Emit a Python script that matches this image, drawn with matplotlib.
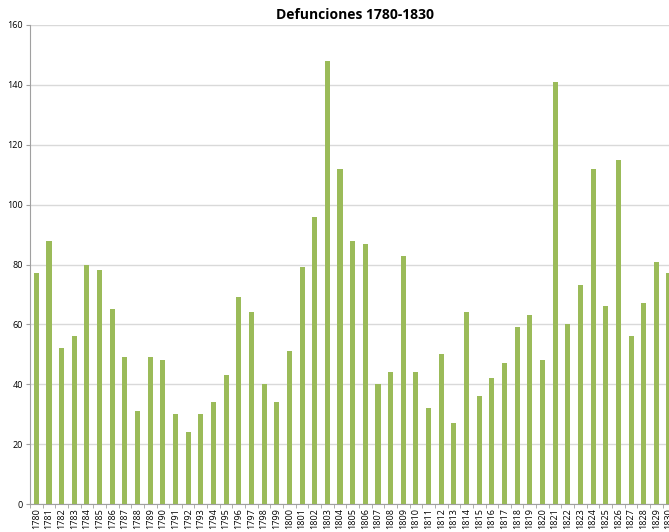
import matplotlib
matplotlib.use("Agg")
import matplotlib.pyplot as plt
import numpy as np

years = [str(y) for y in range(1780, 1831)]
deaths = [77, 88, 52, 56, 80, 78, 65, 49, 31, 49,
          48, 30, 24, 30, 34, 43, 69, 64, 40, 34,
          51, 79, 96, 148, 112, 88, 87, 40, 44, 83,
          44, 32, 50, 27, 64, 36, 42, 47, 59, 63,
          48, 141, 60, 73, 112, 66, 115, 56, 67, 81,
          77]

plt.rcParams['font.family'] = ['Open Sans', 'DejaVu Sans']

fig = plt.figure(figsize=(6.69, 5.32), dpi=100)
ax = fig.add_axes([30/669, 28/532, 1 - 30/669, 479/532])

x = np.arange(len(years))
ax.bar(x, deaths, width=0.4, color='#9BBB59', zorder=3)

ax.set_ylim(0, 160)
ax.set_yticks(range(0, 161, 20))
ax.set_xlim(-0.5, 50.0)
ax.set_xticks(x)
ax.set_xticklabels(years, rotation=90, fontsize=6.5)
ax.set_xticks(np.arange(-0.5, 50.5, 1), minor=True)
ax.tick_params(axis='x', which='major', length=0, pad=3)
ax.tick_params(axis='x', which='minor', length=3, color='#A0A0A0')
ax.tick_params(axis='y', length=3, color='#A0A0A0', labelsize=6.5, pad=2)

ax.grid(axis='y', color='#D9D9D9', linewidth=1, zorder=0)
for s in ['top', 'right']:
    ax.spines[s].set_visible(False)
ax.spines['left'].set_color('#A0A0A0')
ax.spines['bottom'].set_color('#A0A0A0')

fig.suptitle('Defunciones 1780-1830', x=0.53, y=0.985, fontsize=10, fontweight='bold')

fig.savefig('out.png', dpi=100)
